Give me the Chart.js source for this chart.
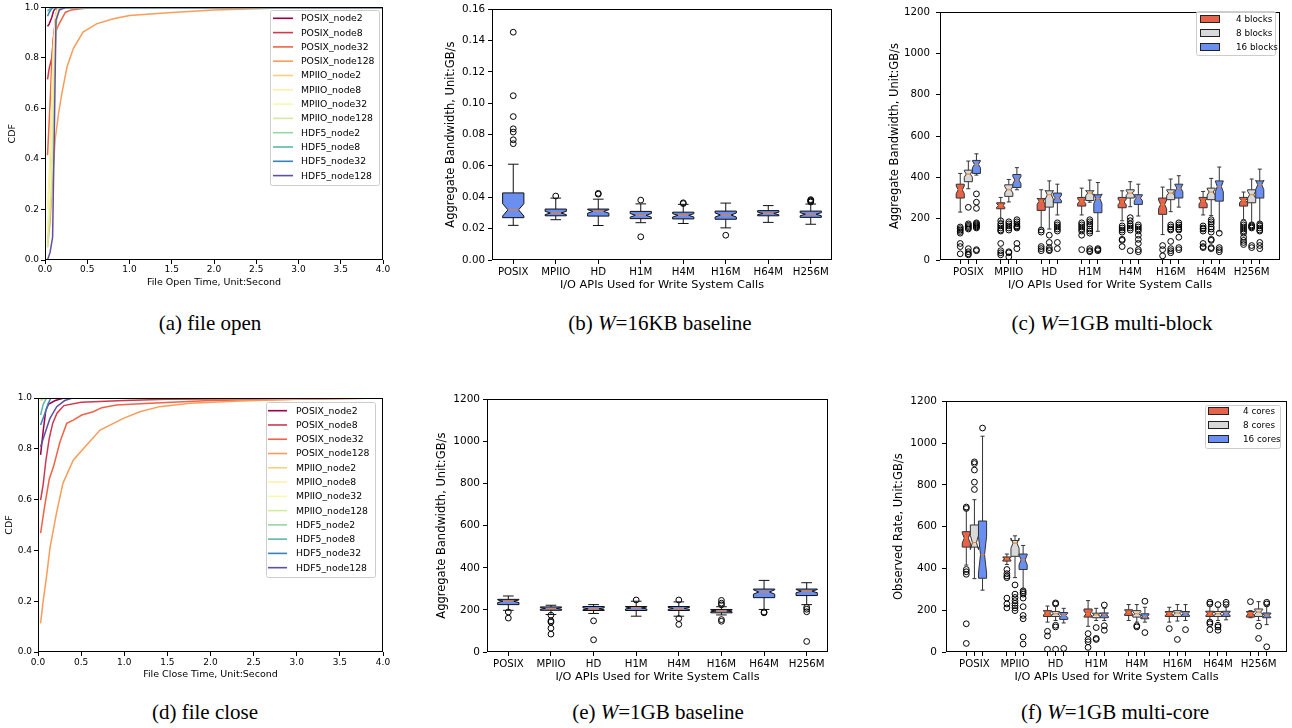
<!DOCTYPE html>
<html>
<head>
<meta charset="utf-8">
<script src="https://cdn.jsdelivr.net/npm/chart.js@4.4.1/dist/chart.umd.min.js"></script>
<style>
  body { margin: 0; background: #fff; width: 1292px; height: 728px; position: relative; overflow: hidden; }
  .panel { position: absolute; }
  .cap { position: absolute; font-family: "Liberation Serif", "DejaVu Serif", serif; font-size: 21px; line-height: 22px; transform: translateX(-50%); white-space: nowrap; color: #000; }
</style>
</head>
<body>
<div class="panel" style="left:0px;top:0px;width:400px;height:300px"><canvas id="open"></canvas></div>
<div class="panel" style="left:430px;top:0px;width:430px;height:300px"><canvas id="base16k"></canvas></div>
<div class="panel" style="left:860px;top:0px;width:432px;height:300px"><canvas id="multiblock"></canvas></div>
<div class="panel" style="left:0px;top:390px;width:400px;height:300px"><canvas id="close"></canvas></div>
<div class="panel" style="left:430px;top:390px;width:430px;height:300px"><canvas id="base1g"></canvas></div>
<div class="panel" style="left:860px;top:390px;width:432px;height:300px"><canvas id="multicore"></canvas></div>

<div class="cap" style="left:210px;top:312px">(a) file open</div>
<div class="cap" style="left:660px;top:312px">(b) <i>W</i>=16KB baseline</div>
<div class="cap" style="left:1112px;top:312px">(c) <i>W</i>=1GB multi-block</div>
<div class="cap" style="left:205px;top:701px">(d) file close</div>
<div class="cap" style="left:658px;top:701px">(e) <i>W</i>=1GB baseline</div>
<div class="cap" style="left:1115px;top:701px">(f) <i>W</i>=1GB multi-core</div>

<script>
const FONT = 'DejaVu Sans';

// ---- CDF panels (a) and (d) ----
const seriesNames = ['POSIX_node2', 'POSIX_node8', 'POSIX_node32', 'POSIX_node128',
  'MPIIO_node2', 'MPIIO_node8', 'MPIIO_node32', 'MPIIO_node128',
  'HDF5_node2', 'HDF5_node8', 'HDF5_node32', 'HDF5_node128'];
const cdfColors = ['#9e0142', '#d0384e', '#ee6445', '#fb9c59', '#fece7c', '#fef1a7',
  '#f4faad', '#d1ec9c', '#98d6a4', '#5db7a9', '#3683bb', '#5e4fa2'];

// file open time (s) and cumulative fraction, one row per series
const openTime = [
  [0.03, 0.05, 0.08, 0.10, 0.12, 0.20, 4.0],
  [0.03, 0.05, 0.08, 0.10, 0.13, 0.15, 4.0],
  [0.03, 0.06, 0.08, 0.10, 0.16, 0.24, 0.31, 0.45, 0.6, 4.0],
  [0.03, 0.06, 0.09, 0.12, 0.16, 0.20, 0.26, 0.335, 0.45, 0.61, 0.81, 1.0, 1.5, 2.0, 2.5, 3.0, 4.0],
  [0.03, 0.06, 0.09, 0.12, 0.15, 4.0],
  [0.03, 0.07, 0.10, 0.13, 0.16, 4.0],
  [0.03, 0.08, 0.11, 0.14, 0.17, 4.0],
  [0.03, 0.08, 0.11, 0.14, 0.18, 4.0],
  [0.03, 0.06, 0.10, 4.0],
  [0.03, 0.05, 0.08, 4.0],
  [0.03, 0.05, 0.08, 0.10, 4.0],
  [0.03, 0.06, 0.09, 0.11, 0.13, 0.17, 0.25, 4.0]
];
const openCdf = [
  [0.925, 0.935, 0.96, 0.985, 0.995, 1.0, 1.0],
  [0.715, 0.76, 0.80, 0.88, 0.97, 1.0, 1.0],
  [0.415, 0.62, 0.78, 0.88, 0.93, 0.98, 0.99, 0.996, 1.0, 1.0],
  [0.053, 0.15, 0.32, 0.475, 0.58, 0.66, 0.764, 0.837, 0.902, 0.935, 0.955, 0.968, 0.98, 0.99, 0.995, 1.0, 1.0],
  [0.05, 0.35, 0.75, 0.95, 1.0, 1.0],
  [0.2, 0.5, 0.85, 0.97, 1.0, 1.0],
  [0.1, 0.4, 0.8, 0.96, 1.0, 1.0],
  [0.05, 0.3, 0.75, 0.95, 1.0, 1.0],
  [0.99, 0.995, 1.0, 1.0],
  [0.985, 0.99, 1.0, 1.0],
  [0.965, 0.98, 0.995, 1.0, 1.0],
  [0.0, 0.03, 0.09, 0.5, 0.95, 0.99, 1.0, 1.0]
];

// file close time (s) and cumulative fraction
const closeTime = [
  [0.03, 0.06, 0.09, 0.12, 0.20, 0.30, 4.0],
  [0.03, 0.06, 0.09, 0.13, 0.17, 0.22, 0.30, 0.50, 1.0, 1.5, 4.0],
  [0.03, 0.08, 0.13, 0.18, 0.255, 0.333, 0.41, 0.507, 0.64, 0.74, 0.91, 1.3, 2.0, 3.0, 4.0],
  [0.03, 0.06, 0.10, 0.139, 0.217, 0.29, 0.41, 0.564, 0.72, 0.99, 1.18, 1.41, 1.76, 2.34, 3.0, 4.0],
  [0.03, 0.06, 0.10, 4.0],
  [0.03, 0.06, 0.10, 4.0],
  [0.03, 0.06, 0.10, 4.0],
  [0.03, 0.06, 0.10, 4.0],
  [0.03, 0.06, 4.0],
  [0.03, 0.06, 0.10, 4.0],
  [0.03, 0.08, 0.12, 0.15, 4.0],
  [0.03, 0.08, 0.139, 0.217, 0.31, 0.40, 4.0]
];
const closeCdf = [
  [0.776, 0.87, 0.95, 0.975, 0.99, 1.0, 1.0],
  [0.598, 0.66, 0.75, 0.84, 0.90, 0.94, 0.97, 0.983, 0.99, 0.995, 1.0],
  [0.468, 0.58, 0.68, 0.73, 0.828, 0.90, 0.913, 0.933, 0.946, 0.962, 0.972, 0.979, 0.99, 0.995, 1.0],
  [0.113, 0.20, 0.30, 0.41, 0.552, 0.665, 0.756, 0.815, 0.874, 0.92, 0.946, 0.966, 0.979, 0.988, 0.995, 1.0],
  [0.99, 0.995, 1.0, 1.0],
  [0.992, 0.996, 1.0, 1.0],
  [0.994, 0.998, 1.0, 1.0],
  [0.99, 0.997, 1.0, 1.0],
  [0.995, 1.0, 1.0],
  [0.933, 0.975, 1.0, 1.0],
  [0.894, 0.94, 0.98, 1.0, 1.0],
  [0.808, 0.86, 0.92, 0.966, 0.99, 1.0, 1.0]
];

// ---- box plot panels ----
const apiCats = ['POSIX', 'MPIIO', 'HD', 'H1M', 'H4M', 'H16M', 'H64M', 'H256M'];

// (b) W=16KB baseline, GB/s
const bLo  = [0.0221, 0.0257, 0.0220, 0.0238, 0.0233, 0.0205, 0.0240, 0.0228];
const bQ1  = [0.0270, 0.0282, 0.0280, 0.0264, 0.0262, 0.0260, 0.0282, 0.0272];
const bMed = [0.0320, 0.0300, 0.0310, 0.0285, 0.0285, 0.0287, 0.0297, 0.0292];
const bQ3  = [0.0428, 0.0325, 0.0325, 0.0310, 0.0305, 0.0312, 0.0315, 0.0312];
const bHi  = [0.0611, 0.0395, 0.0388, 0.0358, 0.0355, 0.0363, 0.0347, 0.0357];
const bOut = [[0.1453, 0.1048, 0.0915, 0.0837, 0.0816, 0.0767, 0.0742], [0.0408], [0.0420, 0.0425],
  [0.0382, 0.0148], [0.0360, 0.0365], [0.0158], [], [0.0370, 0.0375, 0.0380, 0.0385]];

// (e) W=1GB baseline, GB/s
const eLo  = [198, 178, 183, 170, 170, 176, 202, 225];
const eQ1  = [225, 198, 197, 197, 197, 186, 258, 268];
const eMed = [241, 207, 205, 209, 207, 195, 285, 289];
const eQ3  = [250, 214, 216, 216, 216, 202, 299, 299];
const eHi  = [266, 222, 225, 241, 238, 215, 340, 329];
const eOut = [[190, 161], [175, 148, 142, 113, 85], [148, 58], [247], [247, 159, 131],
  [245, 232, 224, 154, 146], [190, 186], [212, 203, 191, 50]];

// (c) W=1GB multi-block
const blockLabels = ['4 blocks', '8 blocks', '16 blocks'];
const c4Lo  = [232, 190, 155, 218, 190, 123, 218, 195];
const c4Q1  = [300, 248, 240, 261, 253, 221, 253, 261];
const c4Med = [340, 264, 285, 285, 281, 269, 285, 288];
const c4Q3  = [367, 277, 297, 303, 303, 300, 303, 303];
const c4Hi  = [419, 303, 340, 348, 335, 353, 332, 329];
const c4Out = [[160, 152, 145, 138, 130, 80, 65, 30], [190, 175, 165, 155, 145, 140, 80, 45, 35, 25],
  [145, 135, 65, 55, 45], [180, 170, 160, 150, 140, 120, 50], [165, 155, 145, 135, 100, 95, 65],
  [70, 50, 20], [165, 155, 150, 140, 80, 65, 60], [180, 170, 160, 150, 140, 130, 110, 95, 85, 75]];
const c8Lo  = [345, 281, 150, 280, 258, 234, 215, 182];
const c8Q1  = [379, 308, 256, 288, 300, 292, 292, 277];
const c8Med = [416, 340, 316, 324, 324, 324, 329, 316];
const c8Q3  = [435, 364, 335, 335, 340, 340, 348, 340];
const c8Hi  = [479, 390, 383, 387, 379, 392, 395, 392];
const c8Out = [[175, 168, 162, 156, 150, 255, 55, 40, 30, 25], [185, 175, 165, 155, 145, 40, 35, 15],
  [120, 85, 60, 50, 45], [195, 185, 175, 165, 150, 140, 130, 55, 45, 40], [205, 190, 175, 165, 155, 145, 45],
  [170, 160, 150, 145, 90, 55, 45, 35], [195, 185, 175, 160, 150, 135, 100, 95, 60, 55], [170, 165, 160, 155, 70, 60]];
const c16Lo  = [411, 340, 218, 139, 213, 256, 140, 182];
const c16Q1  = [419, 351, 277, 229, 269, 300, 285, 300];
const c16Med = [463, 387, 300, 297, 300, 348, 356, 364];
const c16Q3  = [482, 414, 324, 316, 316, 367, 383, 383];
const c16Hi  = [514, 447, 367, 375, 367, 408, 450, 440];
const c16Out = [[320, 280, 250, 180, 175, 170, 165, 160, 155, 50, 45], [195, 185, 175, 165, 160, 155, 80, 55],
  [180, 170, 160, 150, 140, 85, 55], [55, 50, 45], [170, 160, 150, 140, 120, 100, 80, 50, 40],
  [180, 170, 160, 150, 145, 110, 60, 50], [130, 60, 50, 40], [175, 165, 155, 145, 140, 85, 70, 55]];

// (f) W=1GB multi-core
const coreLabels = ['4 cores', '8 cores', '16 cores'];
const f4Lo  = [416, 419, 143, 123, 151, 143, 154, 164];
const f4Q1  = [502, 435, 170, 167, 175, 170, 170, 167];
const f4Med = [545, 446, 187, 183, 191, 183, 183, 183];
const f4Q3  = [576, 455, 198, 206, 202, 194, 195, 194];
const f4Hi  = [679, 469, 220, 246, 227, 214, 219, 198];
const f4Out = [[694, 687, 395, 384, 372, 135, 41], [395, 375, 364, 356, 258, 230, 211], [99, 77, 13],
  [88, 60, 49, 22], [], [112], [238, 230, 143, 135, 107], [241]];
const f8Lo  = [351, 356, 151, 151, 143, 148, 151, 151];
const f8Q1  = [502, 458, 170, 164, 167, 170, 170, 170];
const f8Med = [524, 521, 183, 178, 183, 187, 183, 191];
const f8Q3  = [608, 534, 194, 186, 198, 198, 194, 206];
const f8Hi  = [729, 556, 220, 209, 227, 227, 214, 241];
const f8Out = [[910, 902, 871, 813, 778], [321, 277, 261, 246, 233, 222, 211, 198], [235, 230, 128, 120, 13],
  [117, 65, 60], [126, 120], [60], [227, 128, 120, 104], [124, 65]];
const f16Lo  = [296, 301, 139, 151, 143, 151, 154, 131];
const f16Q1  = [353, 395, 156, 164, 159, 170, 170, 164];
const f16Med = [466, 441, 175, 178, 170, 183, 183, 175];
const f16Q3  = [627, 469, 189, 187, 183, 194, 195, 187];
const f16Hi  = [1033, 510, 209, 209, 214, 227, 219, 222];
const f16Out = [[1072], [293, 285, 277, 258, 217, 175, 159, 72, 38], [17], [225, 126, 104], [243, 93],
  [107], [238, 227], [238, 230, 25]];

const boxRed = '#e4634a', boxGray = '#d9d9d9', boxBlue = '#6a8ff0';

// ---- helpers ----
function yAxis(o) {
  return {
    type: 'linear', min: o.min, max: o.max,
    afterFit: s => { s.width = o.w; },
    border: { display: false },
    grid: { drawOnChartArea: false, tickLength: 4, color: '#000' },
    ticks: { stepSize: o.step, padding: o.pad, color: '#000', font: { family: FONT, size: o.fs },
      callback: v => v.toFixed(o.dec) },
    title: { display: true, text: o.title, color: '#000', font: { family: FONT, size: o.ts },
      padding: { top: o.tx - o.ts * 0.6, bottom: 0 } }
  };
}

function xAxis(o) {
  const ax = {
    type: 'linear', min: o.min, max: o.max,
    afterFit: s => { s.height = o.h; },
    border: { display: false },
    grid: { drawOnChartArea: false, tickLength: 4, color: '#000' },
    ticks: { stepSize: o.step, padding: o.pad, autoSkip: false, maxRotation: 0, minRotation: 0,
      color: '#000', font: { family: FONT, size: o.fs }, callback: o.fmt },
    title: { display: true, text: o.title, color: '#000', font: { family: FONT, size: o.ts },
      padding: { top: 0, bottom: o.tb - o.ts * 0.6 } }
  };
  if (o.pos) ax.afterBuildTicks = s => { s.ticks = o.pos.map(v => ({ value: v })); };
  return ax;
}

const framePlugin = {
  id: 'frame',
  afterDatasetsDraw(chart) {
    const a = chart.chartArea, ctx = chart.ctx;
    ctx.save();
    ctx.strokeStyle = '#000';
    ctx.lineWidth = 1;
    ctx.strokeRect(Math.round(a.left) + 0.5, Math.round(a.top) + 0.5,
      Math.round(a.right - a.left) - 1, Math.round(a.bottom - a.top) - 1);
    ctx.restore();
  }
};

function lineLegend(b) {
  return {
    id: 'lineLegend',
    afterDraw(chart) {
      const ctx = chart.ctx;
      ctx.save();
      ctx.beginPath();
      ctx.roundRect(b.x + 0.5, b.y + 0.5, b.w, b.h, 2);
      ctx.fillStyle = 'rgba(255,255,255,0.8)';
      ctx.fill();
      ctx.strokeStyle = '#cccccc';
      ctx.lineWidth = 1;
      ctx.stroke();
      ctx.font = b.fs + 'px "' + FONT + '"';
      ctx.textBaseline = 'middle';
      chart.data.datasets.forEach((ds, i) => {
        const yy = b.y0 + i * b.dy;
        ctx.strokeStyle = ds.borderColor;
        ctx.lineWidth = 1.6;
        ctx.beginPath();
        ctx.moveTo(b.lx, yy);
        ctx.lineTo(b.lx + b.len, yy);
        ctx.stroke();
        ctx.fillStyle = '#000';
        ctx.fillText(ds.label, b.tx, yy + 0.5);
      });
      ctx.restore();
    }
  };
}

function boxLegend(b, labels, colors) {
  return {
    id: 'boxLegend',
    afterDraw(chart) {
      const ctx = chart.ctx;
      ctx.save();
      ctx.beginPath();
      ctx.roundRect(b.x + 0.5, b.y + 0.5, b.w, b.h, 2);
      ctx.fillStyle = 'rgba(255,255,255,0.8)';
      ctx.fill();
      ctx.strokeStyle = '#cccccc';
      ctx.lineWidth = 1;
      ctx.stroke();
      ctx.font = b.fs + 'px "' + FONT + '"';
      ctx.textBaseline = 'middle';
      labels.forEach((lab, i) => {
        const yy = b.y0 + i * b.dy;
        ctx.fillStyle = colors[i];
        ctx.fillRect(b.sx + 0.5, yy - 3.5, b.sw, 7);
        ctx.strokeStyle = '#222';
        ctx.strokeRect(b.sx + 0.5, yy - 3.5, b.sw, 7);
        ctx.fillStyle = '#000';
        ctx.fillText(lab, b.tx, yy + 0.5);
      });
      ctx.restore();
    }
  };
}

// notched boxes, whiskers and medians drawn through the chart's scales
function boxPlugin(groups) {
  return {
    id: 'boxes',
    afterDatasetsDraw(chart) {
      const ctx = chart.ctx, xs = chart.scales.x, ys = chart.scales.y, a = chart.chartArea;
      ctx.save();
      ctx.beginPath();
      ctx.rect(a.left, a.top, a.right - a.left, a.bottom - a.top);
      ctx.clip();
      groups.forEach(g => {
        g.pos.forEach((p, i) => {
          const cx = xs.getPixelForValue(p);
          const hw = (xs.getPixelForValue(p + g.width / 2) - xs.getPixelForValue(p - g.width / 2)) / 2;
          const iqr = g.q3[i] - g.q1[i];
          const lo = ys.getPixelForValue(g.lo[i]);
          const hi = ys.getPixelForValue(g.hi[i]);
          const q1 = ys.getPixelForValue(g.q1[i]);
          const q3 = ys.getPixelForValue(g.q3[i]);
          const md = ys.getPixelForValue(g.med[i]);
          const nlo = ys.getPixelForValue(g.med[i] - g.notch * iqr);
          const nhi = ys.getPixelForValue(g.med[i] + g.notch * iqr);
          ctx.lineWidth = 1;
          ctx.strokeStyle = g.line;
          ctx.beginPath();
          ctx.moveTo(cx, q1); ctx.lineTo(cx, lo);
          ctx.moveTo(cx, q3); ctx.lineTo(cx, hi);
          ctx.moveTo(cx - hw / 2, lo); ctx.lineTo(cx + hw / 2, lo);
          ctx.moveTo(cx - hw / 2, hi); ctx.lineTo(cx + hw / 2, hi);
          ctx.stroke();
          ctx.beginPath();
          ctx.moveTo(cx - hw, q1);
          ctx.lineTo(cx + hw, q1);
          ctx.lineTo(cx + hw, nlo);
          ctx.lineTo(cx + hw / 2, md);
          ctx.lineTo(cx + hw, nhi);
          ctx.lineTo(cx + hw, q3);
          ctx.lineTo(cx - hw, q3);
          ctx.lineTo(cx - hw, nhi);
          ctx.lineTo(cx - hw / 2, md);
          ctx.lineTo(cx - hw, nlo);
          ctx.closePath();
          ctx.fillStyle = g.fill;
          ctx.fill();
          ctx.strokeStyle = g.edge;
          ctx.stroke();
          ctx.strokeStyle = '#ff7f0e';
          ctx.beginPath();
          ctx.moveTo(cx - hw / 2, md);
          ctx.lineTo(cx + hw / 2, md);
          ctx.stroke();
        });
      });
      ctx.restore();
    }
  };
}

function outlierPoints(pos, outs) {
  const pts = [];
  outs.forEach((list, i) => list.forEach(v => pts.push({ x: pos[i], y: v })));
  return pts;
}

function cdfChart(id, times, cdfs, lay, xTitle, legend) {
  const datasets = seriesNames.map((name, i) => ({
    label: name,
    data: times[i].map((t, j) => ({ x: t, y: cdfs[i][j] })),
    borderColor: cdfColors[i],
    borderWidth: 1.5,
    pointRadius: 0,
    tension: 0,
    fill: false,
    order: -i
  }));
  return new Chart(document.getElementById(id), {
    type: 'line',
    data: { datasets: datasets },
    options: {
      responsive: true, maintainAspectRatio: false, animation: false, events: [],
      layout: { padding: { top: lay.top, right: lay.right, left: 0, bottom: 0 } },
      plugins: { legend: { display: false }, tooltip: { enabled: false } },
      scales: {
        x: xAxis({ min: 0, max: 4, step: 0.5, h: lay.xh, pad: lay.xpad, fs: 9, ts: 9.5,
          title: xTitle, tb: lay.tb, fmt: v => v.toFixed(1) }),
        y: yAxis({ min: 0, max: 1, step: 0.2, w: lay.yw, pad: 2, fs: 9, ts: 9.5, dec: 1,
          title: 'CDF', tx: lay.tx })
      }
    },
    plugins: [framePlugin, lineLegend(legend)]
  });
}

function boxChart(id, groups, cats, centers, ticksAt, lim, lay, yo, legend) {
  const pts = [];
  groups.forEach(g => outlierPoints(g.pos, g.out).forEach(p => pts.push(p)));
  const plugins = [framePlugin, boxPlugin(groups)];
  if (legend) plugins.push(boxLegend(legend, groups.map(g => g.label), groups.map(g => g.fill)));
  return new Chart(document.getElementById(id), {
    type: 'scatter',
    data: { datasets: [{ data: pts, pointRadius: 2.9, pointBorderWidth: 1, pointBorderColor: '#000',
      pointBackgroundColor: 'rgba(0,0,0,0)', showLine: false }] },
    options: {
      responsive: true, maintainAspectRatio: false, animation: false, events: [],
      layout: { padding: { top: lay.top, right: lay.right, left: 0, bottom: 0 } },
      plugins: { legend: { display: false }, tooltip: { enabled: false } },
      scales: {
        x: xAxis({ min: lim[0], max: lim[1], pos: ticksAt, h: lay.xh, pad: lay.xpad, fs: 10.2, ts: 11.3,
          title: 'I/O APIs Used for Write System Calls', tb: lay.tb,
          fmt: v => { const k = centers.indexOf(v); return k >= 0 ? cats[k] : ''; } }),
        y: yAxis(yo)
      }
    },
    plugins: plugins
  });
}

// ---- (a) and (d) ----
cdfChart('open', openTime, openCdf,
  { top: 7, right: 17, yw: 45, xh: 40, xpad: 0, tb: 17, tx: 13 },
  'File Open Time, Unit:Second',
  { x: 270, y: 10, w: 109, h: 175, y0: 18.3, dy: 14.3, lx: 273, len: 20, tx: 301, fs: 9.3 });

cdfChart('close', closeTime, closeCdf,
  { top: 8, right: 17, yw: 38, xh: 38, xpad: 1, tb: 15, tx: 10 },
  'File Close Time, Unit:Second',
  { x: 266, y: 12, w: 109, h: 175, y0: 20.7, dy: 14.27, lx: 268, len: 19, tx: 296, fs: 9.3 });

// ---- (b) and (e): one box per API ----
const singlePos = apiCats.map((c, i) => i + 1);

boxChart('base16k',
  [{ pos: singlePos, lo: bLo, q1: bQ1, med: bMed, q3: bQ3, hi: bHi, out: bOut,
    fill: boxBlue, edge: '#111', line: '#111', width: 0.5, notch: 0.25, label: '' }],
  apiCats, singlePos, singlePos, [0.5, 8.5],
  { top: 7, right: 28, xh: 40, xpad: 2, tb: 15 },
  { min: 0, max: 0.16, step: 0.02, w: 62, pad: 3, fs: 10.3, ts: 11.5, dec: 2,
    title: 'Aggregate Bandwidth, Unit:GB/s', tx: 20.7 }, null);

boxChart('base1g',
  [{ pos: singlePos, lo: eLo, q1: eQ1, med: eMed, q3: eQ3, hi: eHi, out: eOut,
    fill: boxBlue, edge: '#111', line: '#111', width: 0.5, notch: 0.25, label: '' }],
  apiCats, singlePos, singlePos, [0.5, 8.5],
  { top: 8, right: 32, xh: 38, xpad: 2, tb: 13.3 },
  { min: 0, max: 1200, step: 200, w: 57, pad: 3, fs: 10.5, ts: 11.5, dec: 0,
    title: 'Aggregate Bandwidth, Unit:GB/s', tx: 12.3 }, null);

// ---- (c) and (f): three boxes per API ----
const groupCenters = apiCats.map((c, g) => g * 5);
const leftPos = apiCats.map((c, g) => g * 5 - 1);
const midPos = apiCats.map((c, g) => g * 5);
const rightPos = apiCats.map((c, g) => g * 5 + 1);
const allTicks = [].concat(...apiCats.map((c, g) => [g * 5 - 1, g * 5, g * 5 + 1]));

boxChart('multiblock', [
  { pos: leftPos, lo: c4Lo, q1: c4Q1, med: c4Med, q3: c4Q3, hi: c4Hi, out: c4Out,
    fill: boxRed, edge: '#333', line: '#333', width: 1.0, notch: 0.27, label: blockLabels[0] },
  { pos: midPos, lo: c8Lo, q1: c8Q1, med: c8Med, q3: c8Q3, hi: c8Hi, out: c8Out,
    fill: boxGray, edge: '#333', line: '#333', width: 1.0, notch: 0.27, label: blockLabels[1] },
  { pos: rightPos, lo: c16Lo, q1: c16Q1, med: c16Med, q3: c16Q3, hi: c16Hi, out: c16Out,
    fill: boxBlue, edge: '#333', line: '#333', width: 1.0, notch: 0.27, label: blockLabels[2] }
], apiCats, groupCenters, allTicks, [-3.5, 38.5],
  { top: 7, right: 12, xh: 40, xpad: 2, tb: 15 },
  { min: 0, max: 1200, step: 200, w: 80, pad: 6, fs: 10.2, ts: 11.5, dec: 0,
    title: 'Aggregate Bandwidth, Unit:GB/s', tx: 35 },
  { x: 336, y: 11, w: 79, h: 44, y0: 19, dy: 14, sx: 340, sw: 19, tx: 376, fs: 8.8 });

boxChart('multicore', [
  { pos: leftPos, lo: f4Lo, q1: f4Q1, med: f4Med, q3: f4Q3, hi: f4Hi, out: f4Out,
    fill: boxRed, edge: '#333', line: '#333', width: 1.0, notch: 0.32, label: coreLabels[0] },
  { pos: midPos, lo: f8Lo, q1: f8Q1, med: f8Med, q3: f8Q3, hi: f8Hi, out: f8Out,
    fill: boxGray, edge: '#333', line: '#333', width: 1.0, notch: 0.32, label: coreLabels[1] },
  { pos: rightPos, lo: f16Lo, q1: f16Q1, med: f16Med, q3: f16Q3, hi: f16Hi, out: f16Out,
    fill: boxBlue, edge: '#333', line: '#333', width: 1.0, notch: 0.32, label: coreLabels[2] }
], apiCats, groupCenters, allTicks, [-3.5, 38.5],
  { top: 8, right: 5, xh: 38, xpad: 2, tb: 13.3 },
  { min: 0, max: 1200, step: 200, w: 86, pad: 5, fs: 10.5, ts: 11.5, dec: 0,
    title: 'Observed Rate, Unit:GB/s', tx: 39.3 },
  { x: 345, y: 15, w: 75, h: 43, y0: 21, dy: 14, sx: 348, sw: 20, tx: 383, fs: 8.8 });
</script>
</body>
</html>
